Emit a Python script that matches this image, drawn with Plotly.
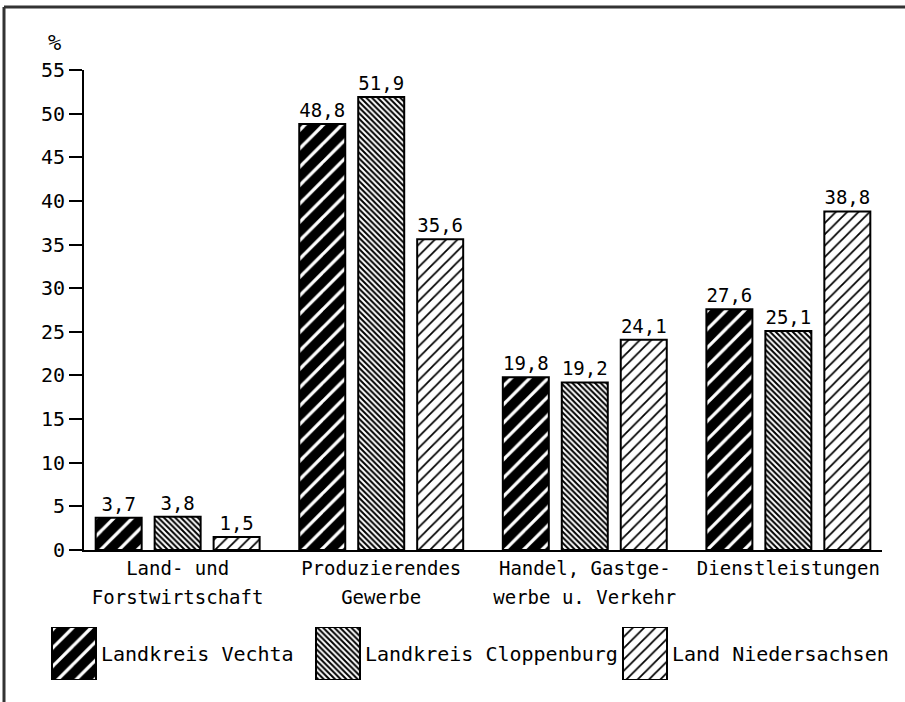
import plotly.graph_objects as go

# --- data -------------------------------------------------------------
categories = [
    "Land- und\nForstwirtschaft",
    "Produzierendes\nGewerbe",
    "Handel, Gastge-\nwerbe u. Verkehr",
    "Dienstleistungen",
]
series_names = ["Landkreis Vechta", "Landkreis Cloppenburg", "Land Niedersachsen"]
vechta = [3.7, 48.8, 19.8, 27.6]
cloppenburg = [3.8, 51.9, 19.2, 25.1]
niedersachsen = [1.5, 35.6, 24.1, 38.8]
y_ticks = list(range(0, 56, 5))

# --- styling ----------------------------------------------------------
FONT = "DejaVu Sans Mono"
patterns = [
    dict(shape="/", size=13, solidity=0.25, fgcolor="white", bgcolor="black", fillmode="replace"),
    dict(shape="\\", size=4, solidity=0.5, fgcolor="black", bgcolor="white", fillmode="replace"),
    dict(shape="/", size=8, solidity=0.22, fgcolor="black", bgcolor="white", fillmode="replace"),
]

# layout in page pixels, converted to paper fractions (no margins)
W, H = 905, 702


def fx(px):
    return px / W


def fy(py):
    return (H - py) / H


plot_left, plot_right, plot_top, plot_bottom = 84, 882, 70, 550
key_top, key_bottom = 627, 680
key_left = [52, 316, 623]  # left edge of each key swatch
key_w = 44


def tick_label(text):
    return "<br>".join(f"<span style='font-size:19px'>{line}</span>" for line in text.split("\n"))


fig = go.Figure()

for name, vals, pat in zip(series_names, [vechta, cloppenburg, niedersachsen], patterns):
    fig.add_trace(go.Bar(
        x=categories, y=vals, name=name,
        marker=dict(color=pat["bgcolor"], pattern=pat, line=dict(color="black", width=2)),
        texttemplate="%{y:.1f}", textposition="outside",
        textfont=dict(family=FONT, size=19, color="black"),
        cliponaxis=False, showlegend=False,
    ))

# key swatches below the chart, one per series
for name, left, pat in zip(series_names, key_left, patterns):
    fig.add_trace(go.Bar(
        x=[left], y=[1], width=[key_w], offset=0, name=name,
        marker=dict(color=pat["bgcolor"], pattern=pat, line=dict(color="black", width=2)),
        xaxis="x2", yaxis="y2", showlegend=False, hoverinfo="skip",
    ))

annotations = [
    dict(x=left + key_w + 3, y=0.5, xref="x2", yref="y2", text=name, showarrow=False,
         xanchor="left", yanchor="middle", font=dict(family=FONT, size=20, color="black"))
    for left, name in zip(key_left, series_names)
]
annotations.append(dict(x=fx(63), y=fy(42), xref="paper", yref="paper",
                        text="%", showarrow=False, xanchor="right", yanchor="middle",
                        font=dict(family=FONT, size=22, color="black")))

fig.update_layout(
    width=W, height=H,
    margin=dict(l=0, r=0, t=0, b=0, autoexpand=False),
    paper_bgcolor="white", plot_bgcolor="white",
    barmode="group", bargap=0.131, bargroupgap=0.22,
    separators=",.",
    font=dict(family=FONT, color="black"),
    xaxis=dict(
        domain=[fx(plot_left), fx(plot_right)], type="category", range=[-0.46, 3.46],
        tickvals=categories, ticktext=[tick_label(c) for c in categories],
        tickfont=dict(family=FONT, size=22, color="black"),
        showline=True, linecolor="black", linewidth=2, ticks="", showgrid=False,
        ticklabelstandoff=-3,
    ),
    yaxis=dict(
        domain=[fy(plot_bottom), fy(plot_top)], range=[0, 55], tickvals=y_ticks,
        tickfont=dict(family=FONT, size=20, color="black"),
        ticks="outside", ticklen=13, tickwidth=2, tickcolor="black",
        showline=True, linecolor="black", linewidth=2, showgrid=False, zeroline=False,
    ),
    xaxis2=dict(domain=[0, 1], range=[0, W], visible=False, anchor="y2"),
    yaxis2=dict(domain=[fy(key_bottom), fy(key_top)], range=[0, 1], visible=False, anchor="x2"),
    annotations=annotations,
    shapes=[
        dict(type="line", xref="paper", yref="paper", x0=fx(4), x1=1.01,
             y0=fy(7), y1=fy(7), line=dict(color="#333333", width=3)),
        dict(type="line", xref="paper", yref="paper", x0=fx(4), x1=fx(4),
             y0=fy(7), y1=-0.01, line=dict(color="#333333", width=3)),
    ],
)

fig.write_html("out.html")
